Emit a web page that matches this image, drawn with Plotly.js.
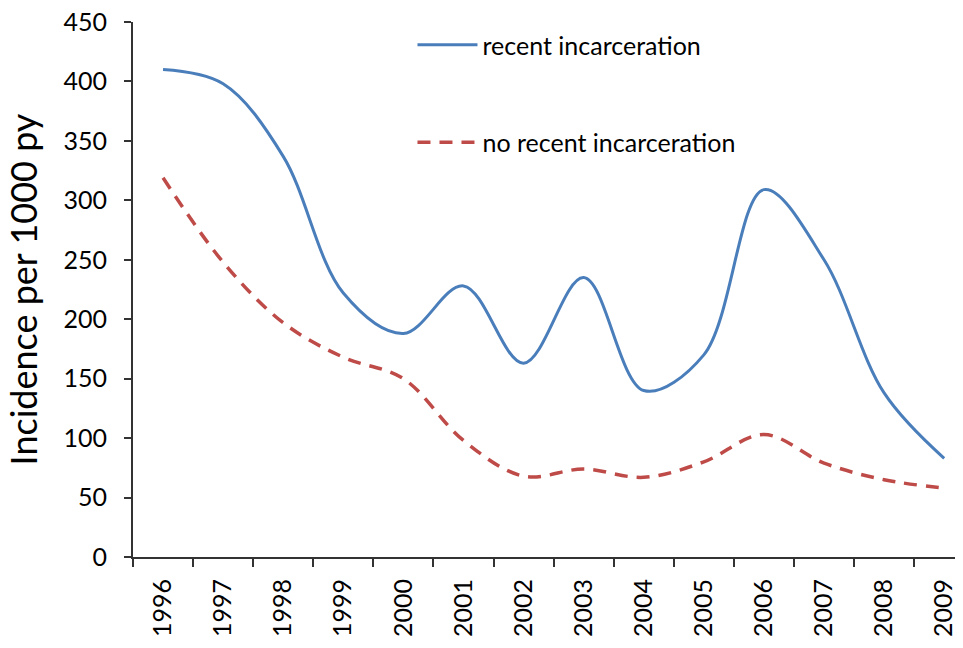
<!DOCTYPE html>
<html>
<head>
<meta charset="utf-8">
<script src="https://cdn.plot.ly/plotly-3.0.1.min.js"></script>
<style>html,body{margin:0;padding:0;background:#fff;}#chart{width:963px;height:648px;}</style>
</head>
<body>
<div id="chart"></div>
<script>
const years = ["1996","1997","1998","1999","2000","2001","2002","2003","2004","2005","2006","2007","2008","2009"];
const recentIncarceration = [410, 398, 337, 222, 188, 228, 163, 235, 140, 170, 309, 250, 138, 83];
const noRecentIncarceration = [319, 248, 197, 168, 150, 98, 68, 74, 67, 80, 103, 79, 65, 58];
const seriesNames = ["recent incarceration", "no recent incarceration"];
const yTicks = [0, 50, 100, 150, 200, 250, 300, 350, 400, 450];

const FONT = "Lato, 'Open Sans', sans-serif";

const traces = [
  {
    x: years, y: recentIncarceration, name: seriesNames[0], type: "scatter", mode: "lines",
    line: {color: "#4a7ebb", width: 3, shape: "spline", smoothing: 1},
    legendgroup: "a"
  },
  {
    x: years, y: noRecentIncarceration, name: seriesNames[1], type: "scatter", mode: "lines",
    line: {color: "#be4b48", width: 3.5, shape: "spline", smoothing: 1, dash: "13px,9px"},
    legendgroup: "b"
  }
];

const layout = {
  width: 963, height: 648,
  margin: {l: 133, r: 8, t: 22, b: 91, pad: 0, autoexpand: false},
  paper_bgcolor: "#fff", plot_bgcolor: "#fff",
  font: {family: FONT, color: "#000"},
  showlegend: true,
  legend: {
    x: 0.34, y: 1.0, xanchor: "left", yanchor: "top",
    font: {size: 25, family: FONT, color: "#000"},
    itemwidth: 60,
    traceorder: "grouped", tracegroupgap: 62,
    bgcolor: "rgba(0,0,0,0)", borderwidth: 0
  },
  xaxis: {
    type: "category",
    range: [-0.5, 13.18],
    tickmode: "array", tickvals: years, ticktext: years,
    tickson: "boundaries",
    ticks: "outside", ticklen: 8, tickwidth: 2, tickcolor: "#333",
    showline: true, linecolor: "#333", linewidth: 2,
    showgrid: false, zeroline: false, automargin: false,
    tickangle: -90,
    tickfont: {size: 25, family: FONT, color: "#000"},
    ticklabelstandoff: 10
  },
  yaxis: {
    range: [0, 450],
    tickvals: yTicks, ticktext: yTicks.map(String),
    ticks: "outside", ticklen: 7, tickwidth: 2, tickcolor: "#333",
    showline: true, linecolor: "#333", linewidth: 2,
    showgrid: false, zeroline: false, automargin: false,
    tickfont: {size: 25, family: FONT, color: "#000"},
    ticklabelstandoff: 12,
    title: {text: "Incidence per 1000 py", font: {size: 36, family: FONT, color: "#000"}, standoff: 15}
  }
};

Plotly.newPlot("chart", traces, layout, {displayModeBar: false, staticPlot: true});
</script>
</body>
</html>
